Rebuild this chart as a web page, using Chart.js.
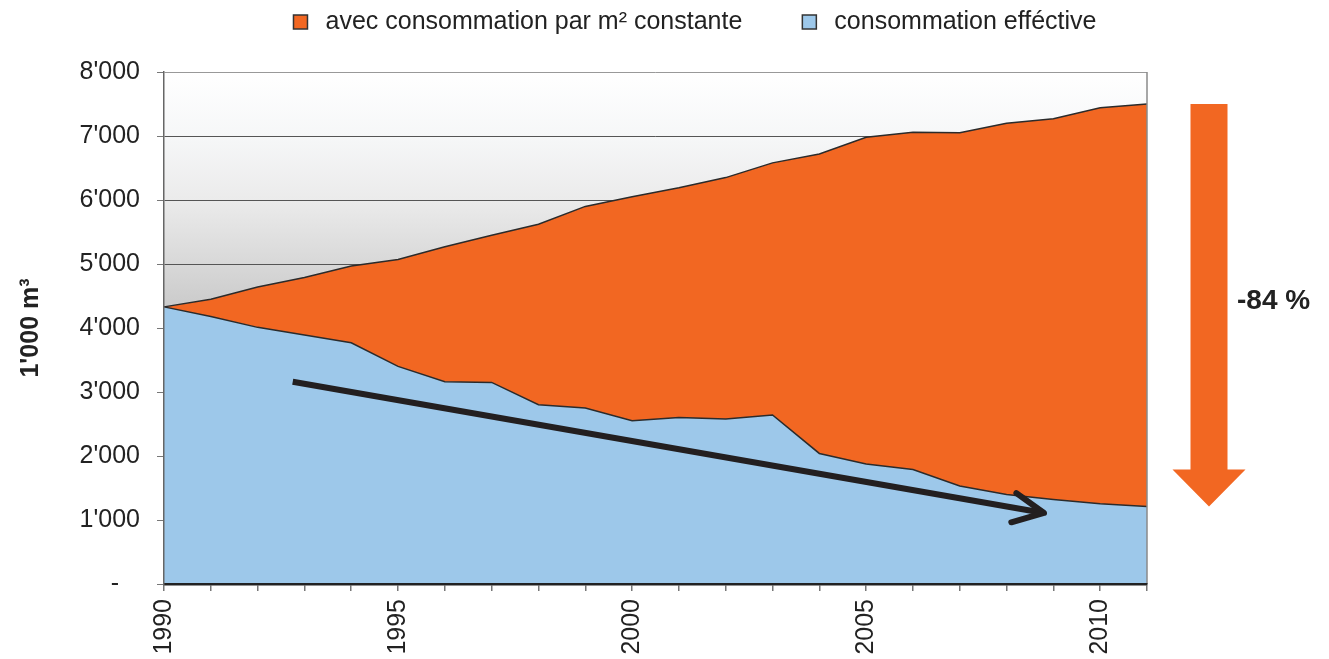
<!DOCTYPE html>
<html>
<head>
<meta charset="utf-8">
<script src="https://cdn.jsdelivr.net/npm/chart.js@4.4.1/dist/chart.umd.min.js"></script>
<style>
  html, body { margin: 0; padding: 0; background: #fff; }
  #wrap { width: 1329px; height: 659px; }
</style>
</head>
<body>
<div id="wrap"><canvas id="chart" width="1329" height="659"></canvas></div>
<script>
// Data
var years = ['1990', '1991', '1992', '1993', '1994', '1995', '1996', '1997', '1998', '1999', '2000',
             '2001', '2002', '2003', '2004', '2005', '2006', '2007', '2008', '2009', '2010', '2011'];
var constantValues = [4330, 4450, 4640, 4790, 4970, 5070, 5270, 5450, 5620, 5900, 6050,
                      6190, 6350, 6580, 6720, 6980, 7060, 7050, 7200, 7270, 7440, 7500];
var effectiveValues = [4330, 4180, 4010, 3890, 3770, 3400, 3160, 3150, 2800, 2750, 2550,
                       2600, 2580, 2640, 2040, 1875, 1790, 1530, 1400, 1320, 1255, 1210];
var yTicks = [0, 1000, 2000, 3000, 4000, 5000, 6000, 7000, 8000];
var seriesLabels = ['avec consommation par m² constante', 'consommation efféctive'];
var yTitle = "1'000 m³";
// trend arrow: [year, value]
var trendFrom = [1992.75, 3160];
var trendTo = [2008.8, 1110];

var ORANGE = '#F26722';
var BLUE = '#9DC8EA';
var INK = '#222222';
var FONT = "'Liberation Sans', Arial, sans-serif";

function formatThousands(v) {
    if (v === 0) return '-   ';
    return String(v).replace(/\B(?=(\d{3})+(?!\d))/g, "'");
}

function yearToIndex(year) {
    return year - Number(years[0]);
}

// Plot area gradient background
var backgroundPlugin = {
    id: 'plotBackground',
    beforeDraw: function(chart) {
        var ctx = chart.ctx;
        var a = chart.chartArea;
        var g = ctx.createLinearGradient(0, a.top, 0, a.bottom);
        g.addColorStop(0, '#ffffff');
        g.addColorStop(0.125, '#f6f7f8');
        g.addColorStop(0.25, '#ebebeb');
        g.addColorStop(0.375, '#d8d8d8');
        g.addColorStop(0.5, '#c4c4c4');
        g.addColorStop(1, '#a0a0a0');
        ctx.save();
        ctx.fillStyle = g;
        ctx.fillRect(a.left, a.top, a.right - a.left, a.bottom - a.top);
        ctx.restore();
    }
};

// Trend arrow, right border, big arrow, percentage and legend
var decorPlugin = {
    id: 'decor',
    afterDatasetsDraw: function(chart) {
        var ctx = chart.ctx;
        var a = chart.chartArea;
        var xs = chart.scales.x;
        var ys = chart.scales.y;

        // right border of plot
        ctx.save();
        ctx.strokeStyle = '#8a8a8a';
        ctx.lineWidth = 1.5;
        ctx.beginPath();
        ctx.moveTo(a.right, a.top);
        ctx.lineTo(a.right, a.bottom);
        ctx.stroke();

        // trend arrow
        var x0 = xs.getPixelForValue(yearToIndex(trendFrom[0]));
        var y0 = ys.getPixelForValue(trendFrom[1]);
        var x1 = xs.getPixelForValue(yearToIndex(trendTo[0]));
        var y1 = ys.getPixelForValue(trendTo[1]);
        ctx.strokeStyle = '#231f20';
        ctx.lineWidth = 6;
        ctx.lineCap = 'butt';
        ctx.beginPath();
        ctx.moveTo(x0, y0);
        ctx.lineTo(x1, y1);
        ctx.stroke();
        var ang = Math.atan2(y1 - y0, x1 - x0);
        var len = 34;
        ctx.lineCap = 'round';
        ctx.lineJoin = 'round';
        ctx.beginPath();
        ctx.moveTo(x1 + len * Math.cos(ang + Math.PI - 0.45), y1 + len * Math.sin(ang + Math.PI - 0.45));
        ctx.lineTo(x1, y1);
        ctx.lineTo(x1 + len * Math.cos(ang + Math.PI + 0.45), y1 + len * Math.sin(ang + Math.PI + 0.45));
        ctx.stroke();
        ctx.restore();
    },
    afterDraw: function(chart) {
        var ctx = chart.ctx;
        var a = chart.chartArea;
        var ys = chart.scales.y;
        var last = years.length - 1;

        // big reduction arrow
        var topY = ys.getPixelForValue(constantValues[last]);
        var tipY = ys.getPixelForValue(effectiveValues[last]);
        var cx = a.right + 62;
        var shaftHalf = 18.5;
        var headHalf = 36.5;
        var headH = 37;
        ctx.save();
        ctx.fillStyle = ORANGE;
        ctx.beginPath();
        ctx.moveTo(cx - shaftHalf, topY);
        ctx.lineTo(cx + shaftHalf, topY);
        ctx.lineTo(cx + shaftHalf, tipY - headH);
        ctx.lineTo(cx + headHalf, tipY - headH);
        ctx.lineTo(cx, tipY);
        ctx.lineTo(cx - headHalf, tipY - headH);
        ctx.lineTo(cx - shaftHalf, tipY - headH);
        ctx.closePath();
        ctx.fill();

        var drop = Math.round((1 - effectiveValues[last] / constantValues[last]) * 100);
        ctx.fillStyle = INK;
        ctx.font = 'bold 28px ' + FONT;
        ctx.textAlign = 'left';
        ctx.textBaseline = 'middle';
        ctx.fillText('-' + drop + ' %', cx + 28, (topY + tipY) / 2 - 4);

        // legend (orange series first)
        var items = [
            { text: chart.data.datasets[1].label, color: chart.data.datasets[1].backgroundColor },
            { text: chart.data.datasets[0].label, color: chart.data.datasets[0].backgroundColor }
        ];
        ctx.font = '25px ' + FONT;
        var box = 14, gapText = 18, gapItem = 60;
        var total = 0;
        items.forEach(function(it, i) {
            it.w = ctx.measureText(it.text).width;
            total += box + gapText + it.w + (i > 0 ? gapItem : 0);
        });
        var x = 695 - total / 2;
        var ly = 22;
        items.forEach(function(it) {
            ctx.fillStyle = it.color;
            ctx.fillRect(x, ly - box / 2, box, box);
            ctx.strokeStyle = '#333';
            ctx.lineWidth = 1.5;
            ctx.strokeRect(x, ly - box / 2, box, box);
            ctx.fillStyle = INK;
            ctx.fillText(it.text, x + box + gapText, ly);
            x += box + gapText + it.w + gapItem;
        });
        ctx.restore();
    }
};

var ctx = document.getElementById('chart');
new Chart(ctx, {
    type: 'line',
    data: {
        labels: years,
        datasets: [{
            label: seriesLabels[1],
            data: effectiveValues,
            backgroundColor: BLUE,
            borderColor: '#2b2b2b',
            borderWidth: 1.5,
            pointRadius: 0,
            tension: 0,
            fill: 'origin'
        }, {
            label: seriesLabels[0],
            data: constantValues,
            backgroundColor: ORANGE,
            borderColor: '#2b2b2b',
            borderWidth: 1.5,
            pointRadius: 0,
            tension: 0,
            fill: '-1'
        }]
    },
    options: {
        responsive: false,
        animation: false,
        devicePixelRatio: 1,
        layout: { padding: { top: 72, right: 182, left: 0, bottom: 0 } },
        plugins: {
            legend: { display: false },
            tooltip: { enabled: false }
        },
        scales: {
            x: {
                offset: false,
                grid: { drawOnChartArea: false, drawTicks: true, tickLength: 7, tickColor: '#777', lineWidth: 1.5 },
                border: { color: INK, width: 2.5, z: 1 },
                ticks: {
                    autoSkip: false,
                    maxRotation: 90,
                    minRotation: 90,
                    padding: 8,
                    color: INK,
                    font: { family: FONT, size: 25 },
                    callback: function(v, i) {
                        var y = years[i];
                        return Number(y) % 5 === 0 ? y : '';
                    }
                },
                afterFit: function(s) { s.height = 75; }
            },
            y: {
                min: 0,
                max: 8000,
                afterBuildTicks: function(s) {
                    s.ticks = yTicks.map(function(v) { return { value: v }; });
                },
                grid: {
                    color: function(c) { return c.tick && c.tick.value === 8000 ? '#999' : '#555'; },
                    lineWidth: 1,
                    tickLength: 7,
                    tickColor: '#777'
                },
                border: { color: '#666', width: 1.5, z: 1 },
                ticks: {
                    padding: 17,
                    color: INK,
                    font: { family: FONT, size: 25 },
                    callback: function(v) { return formatThousands(v); }
                },
                title: {
                    display: true,
                    text: yTitle,
                    color: INK,
                    font: { family: FONT, size: 25, weight: 'bold' },
                    padding: { top: 16, bottom: 0 }
                },
                afterFit: function(s) { s.width = 164; }
            }
        }
    },
    plugins: [backgroundPlugin, decorPlugin]
});
</script>
</body>
</html>
